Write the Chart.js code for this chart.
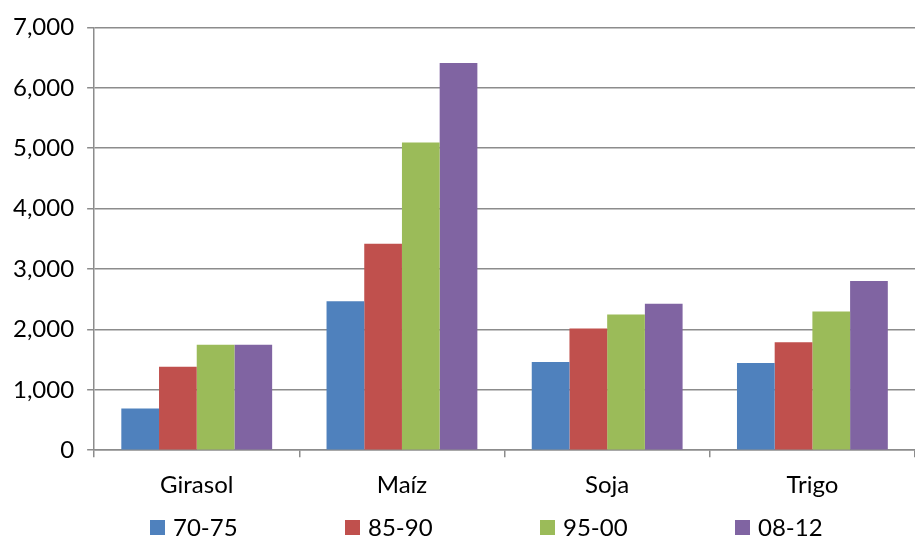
<!DOCTYPE html>
<html>
<head>
<meta charset="utf-8">
<script src="https://cdn.jsdelivr.net/npm/chart.js@4.4.1/dist/chart.umd.min.js"></script>
<style>
    html, body { margin: 0; padding: 0; background: #fff; }
    #grafico01 { display: block; }
</style>
</head>
<body>
<canvas id="grafico01" width="915" height="537"></canvas>
<script>
// datos del grafico
var categorias = ['Girasol', 'Maíz', 'Soja', 'Trigo'];
var periodos = ['70-75', '85-90', '95-00', '08-12'];
var serie7075 = [690, 2466, 1459, 1443];
var serie8590 = [1380, 3419, 2016, 1787];
var serie9500 = [1745, 5096, 2246, 2295];
var serie0812 = [1745, 6411, 2426, 2803];
var colores = ['#4F81BD', '#C0504D', '#9BBB59', '#8064A2'];

(function () {

    var fuente = 'Lato, "Open Sans", sans-serif';

    // leyenda propia, repartida como en el original
    var leyenda = {
        id: 'leyenda',
        afterDraw: function (chart) {
            var ctx = chart.ctx;
            var y = 527;
            ctx.save();
            ctx.font = '24px ' + fuente;
            ctx.textBaseline = 'middle';
            chart.data.datasets.forEach(function (ds, i) {
                var x = 150 + i * 195;
                ctx.fillStyle = ds.backgroundColor;
                ctx.fillRect(x, y - 7, 15, 15);
                ctx.fillStyle = '#000';
                ctx.fillText(ds.label, x + 23, y + 1);
            });
            ctx.restore();
        }
    };

    function grafico01() {
        var series = [serie7075, serie8590, serie9500, serie0812];
        var ctx = document.getElementById('grafico01').getContext('2d');
        var grafico = new Chart(ctx, {
            type: 'bar',
            data: {
                labels: categorias,
                datasets: series.map(function (s, i) {
                    return {
                        label: periodos[i],
                        data: s,
                        backgroundColor: colores[i],
                        borderWidth: 0,
                        categoryPercentage: 0.735,
                        barPercentage: 1
                    };
                })
            },
            options: {
                responsive: false,
                animation: false,
                layout: {
                    autoPadding: false,
                    padding: { top: 23, left: 0, right: 0, bottom: 23 }
                },
                plugins: {
                    legend: { display: false },
                    tooltip: { enabled: false }
                },
                scales: {
                    y: {
                        min: 0,
                        max: 7000,
                        ticks: {
                            stepSize: 1000,
                            padding: 13,
                            color: '#000',
                            font: { family: fuente, size: 24 },
                            callback: function (v) { return v.toLocaleString('en-US'); }
                        },
                        grid: {
                            color: '#8c8c8c',
                            lineWidth: 1.5,
                            tickLength: 7
                        },
                        border: { color: '#8c8c8c', width: 1.5 }
                    },
                    x: {
                        ticks: {
                            padding: 14,
                            color: '#000',
                            font: { family: fuente, size: 24 }
                        },
                        grid: {
                            drawOnChartArea: false,
                            color: '#8c8c8c',
                            lineWidth: 1.5,
                            tickLength: 7
                        },
                        border: { color: '#8c8c8c', width: 1.5 }
                    }
                }
            },
            plugins: [leyenda]
        });
    }

    grafico01();

})();
</script>
</body>
</html>
